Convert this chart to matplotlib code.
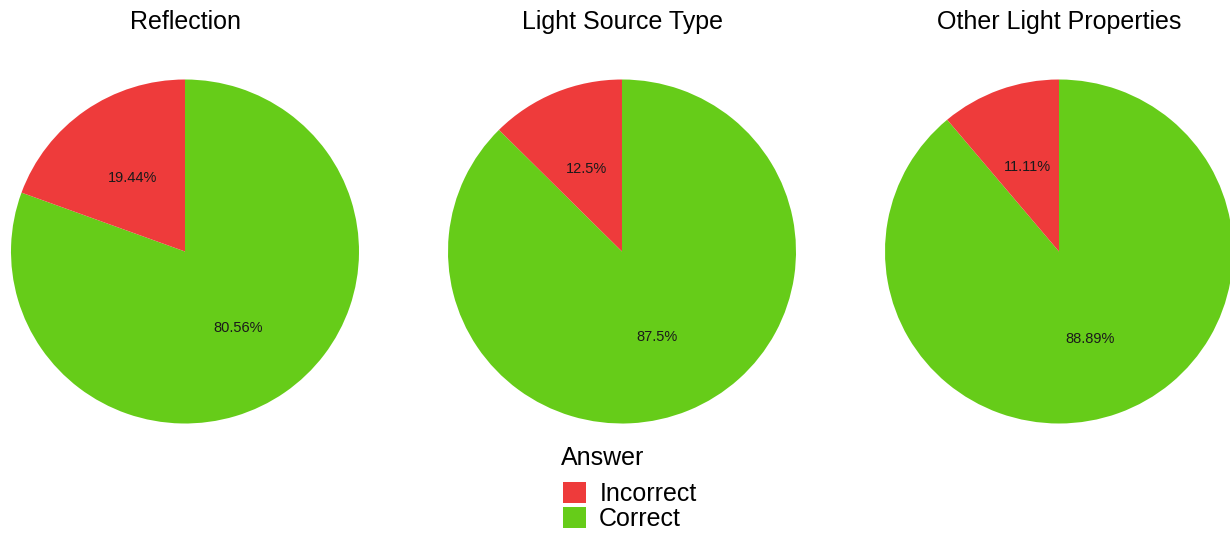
import matplotlib.pyplot as plt
from matplotlib.patches import Patch

plt.rcParams['font.family'] = ['Liberation Sans', 'DejaVu Sans']

# 数据
categories = ['Reflection', 'Light Source Type', 'Other Light Properties']
correct = [80.56, 87.5, 88.89]
incorrect = [19.44, 12.5, 11.11]
answer_labels = ['Incorrect', 'Correct']

red = '#EE3B3B'
green = '#66CC19'

fig = plt.figure(figsize=(12.3, 5.33), dpi=100)

# 每个饼图的中心 (像素)
centers_x = [185, 622, 1059]
rx, ry = 174, 172
center_y = 251.5

for i, name in enumerate(categories):
    left = (centers_x[i] - rx) / 1230
    bottom = (533 - center_y - ry) / 533
    ax = fig.add_axes([left, bottom, 2 * rx / 1230, 2 * ry / 533])
    vals = [correct[i], incorrect[i]]
    labels = [f'{v:g}%' for v in vals]
    wedges, texts = ax.pie(vals, colors=[green, red], startangle=90,
                           counterclock=False, radius=1,
                           labels=labels, labeldistance=0.53,
                           wedgeprops=dict(linewidth=0))
    for t in texts:
        t.set_ha('center')
        t.set_va('center_baseline')
        t.set_fontsize(10.5)
        t.set_color('#1a1a1a')
    ax.set_xlim(-1, 1)
    ax.set_ylim(-1, 1)
    ax.set_aspect('auto')
    fig.text(centers_x[i] / 1230, 1 - 22 / 533, name, ha='center', va='center',
             fontsize=18, color='black')

# 图例
fig.text(561 / 1230, 1 - 458 / 533, 'Answer', ha='left', va='center',
         fontsize=18, color='black')
handles = [Patch(facecolor=red, edgecolor='none'), Patch(facecolor=green, edgecolor='none')]
leg = fig.legend(handles, answer_labels, loc='upper left',
                 bbox_to_anchor=(563 / 1230, 1 - 482 / 533), frameon=False,
                 fontsize=18, borderpad=0, borderaxespad=0,
                 labelspacing=0.05, handlelength=0.9, handleheight=0.9,
                 handletextpad=0.55)

plt.savefig('out.png', dpi=100)
